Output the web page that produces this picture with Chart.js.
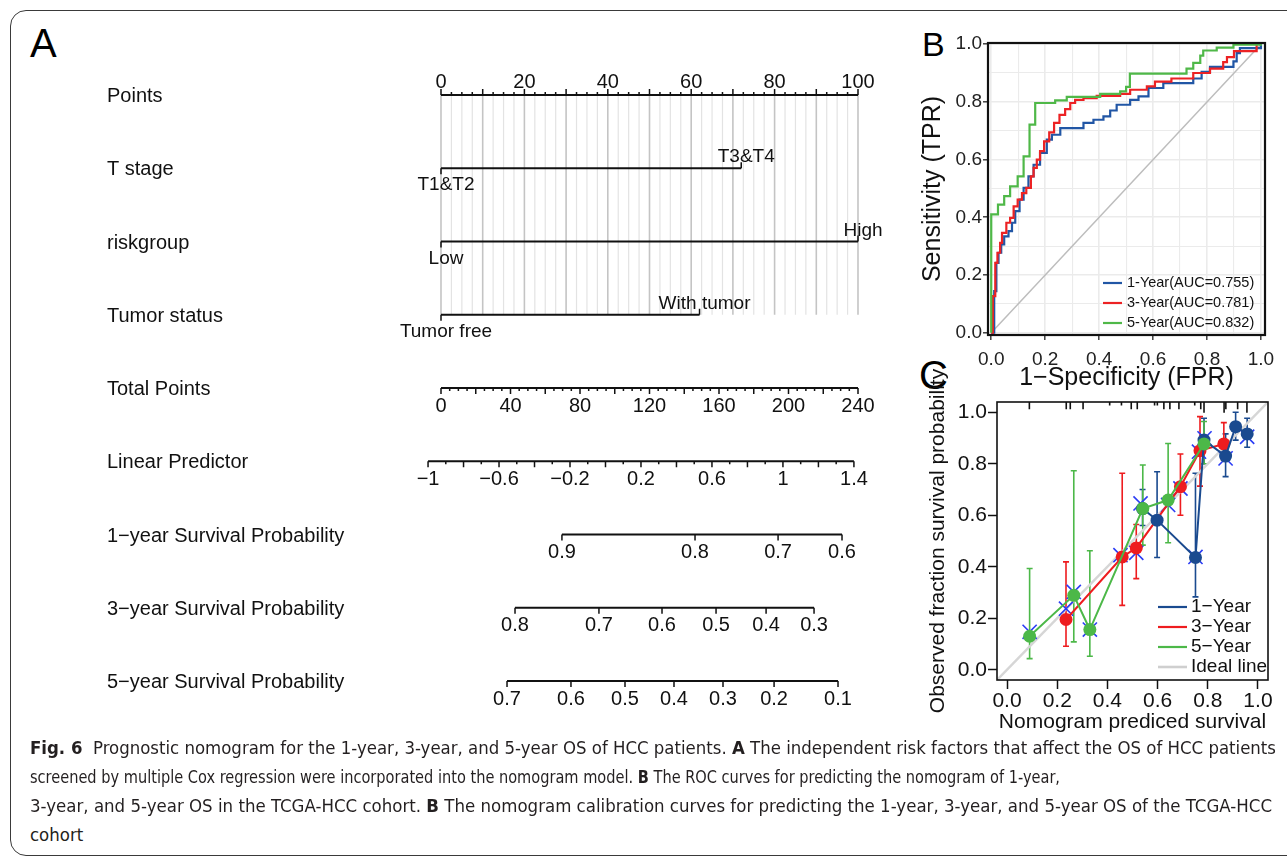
<!DOCTYPE html>
<html>
<head>
<meta charset="utf-8">
<title>Fig. 6</title>
<script src="https://cdn.jsdelivr.net/npm/chart.js@4.4.1/dist/chart.umd.min.js"></script>
<style>
  html, body { margin: 0; padding: 0; background: #fff; }
  body { width: 1287px; height: 858px; position: relative; overflow: hidden;
         font-family: 'Liberation Sans', Arial, sans-serif; }
  #frame { position: absolute; left: 10px; top: 10px; width: 1330px; height: 846px;
           border: 1.2px solid #3a3a3a; border-radius: 16px; box-sizing: border-box; }
  canvas { position: absolute; }
  .tag { position: absolute; line-height: 1; color: #000; }
  .cap { position: absolute; left: 30px; white-space: nowrap; color: #231f20;
         font-family: 'Liberation Sans Narrow', 'DejaVu Sans Condensed', sans-serif;
         font-size: 18px; line-height: 29px; transform-origin: 0 50%; }
</style>
</head>
<body>
<div id="frame"></div>
<div class="tag" style="left:30px;top:23px;font-size:40px">A</div>
<div class="tag" style="left:922px;top:27px;font-size:34px">B</div>
<div class="tag" style="left:919px;top:355px;font-size:40px">C</div>

<canvas id="nomo" width="890" height="700" style="left:20px;top:20px"></canvas>
<canvas id="roc" width="385" height="375" style="left:900px;top:20px"></canvas>
<canvas id="calib" width="385" height="390" style="left:900px;top:355px"></canvas>

<div class="cap" style="top:733px"><b>Fig. 6</b>&nbsp; Prognostic nomogram for the 1-year, 3-year, and 5-year OS of HCC patients. <b>A</b> The independent risk factors that affect the OS of HCC patients</div>
<div class="cap" style="top:762px">screened by multiple Cox regression were incorporated into the nomogram model. <b>B</b> The ROC curves for predicting the nomogram of 1-year,</div>
<div class="cap" style="top:791px">3-year, and 5-year OS in the TCGA-HCC cohort. <b>B</b> The nomogram calibration curves for predicting the 1-year, 3-year, and 5-year OS of the TCGA-HCC</div>
<div class="cap" style="top:820px">cohort</div>

<script>
Chart.defaults.font.family = "'Liberation Sans', Arial, sans-serif";
Chart.defaults.color = '#111';
Chart.defaults.animation = false;

// ------------------------------------------------------------
// Nomogram values
// ------------------------------------------------------------
const rowNames = ['Points', 'T stage', 'riskgroup', 'Tumor status', 'Total Points',
  'Linear Predictor', '1\u2212year Survival Probability', '3\u2212year Survival Probability',
  '5\u2212year Survival Probability'];

const pointsTicks = [0, 20, 40, 60, 80, 100];
const tStageLevels = ['T1&T2', 'T3&T4'];
const tStagePoints = [0, 72];
const riskLevels = ['Low', 'High'];
const riskPoints = [0, 100];
const tumorLevels = ['Tumor free', 'With tumor'];
const tumorPoints = [0, 62];

const totalTicks = [0, 40, 80, 120, 160, 200, 240];
const lpTicks = [-1, -0.6, -0.2, 0.2, 0.6, 1, 1.4];

// survival probability marks, placed on the total-points scale
const surv1Probs = [0.9, 0.8, 0.7, 0.6];
const surv1AtTotal = [69.6, 146.2, 194.0, 230.8];
const surv3Probs = [0.8, 0.7, 0.6, 0.5, 0.4, 0.3];
const surv3AtTotal = [42.6, 90.9, 127.2, 158.3, 187.1, 214.7];
const surv5Probs = [0.7, 0.6, 0.5, 0.4, 0.3, 0.2, 0.1];
const surv5AtTotal = [38.0, 74.8, 105.9, 134.1, 162.3, 191.7, 228.5];

// ------------------------------------------------------------
// ROC values
// ------------------------------------------------------------
const rocNames = ['1-Year(AUC=0.755)', '3-Year(AUC=0.781)', '5-Year(AUC=0.832)'];
const rocGrid = [0, 0.1, 0.2, 0.3, 0.4, 0.5, 0.6, 0.7, 0.8, 0.9, 1.0];

const roc1Fpr = [0, 0.011, 0.019, 0.027, 0.037, 0.048, 0.064, 0.077, 0.089, 0.105, 0.120, 0.138,
  0.157, 0.181, 0.206, 0.225, 0.256, 0.342, 0.379, 0.416, 0.441, 0.465, 0.515, 0.546, 0.583,
  0.638, 0.749, 0.780, 0.811, 0.898, 0.910, 0.922, 1.0];
const roc1Tpr = [0, 0.144, 0.242, 0.277, 0.306, 0.334, 0.352, 0.381, 0.421, 0.461, 0.502, 0.542,
  0.582, 0.623, 0.669, 0.686, 0.709, 0.727, 0.738, 0.750, 0.770, 0.790, 0.807, 0.819, 0.848,
  0.865, 0.881, 0.904, 0.921, 0.940, 0.969, 0.986, 1.0];

const roc3Fpr = [0, 0.006, 0.015, 0.023, 0.033, 0.040, 0.056, 0.070, 0.083, 0.098, 0.114, 0.130,
  0.147, 0.157, 0.169, 0.181, 0.196, 0.215, 0.233, 0.253, 0.274, 0.293, 0.311, 0.342, 0.391,
  0.478, 0.515, 0.577, 0.607, 0.668, 0.749, 0.811, 0.860, 0.874, 0.900, 0.984];
const roc3Tpr = [0, 0.127, 0.242, 0.277, 0.311, 0.346, 0.381, 0.398, 0.438, 0.461, 0.484, 0.502,
  0.542, 0.571, 0.600, 0.629, 0.663, 0.694, 0.727, 0.755, 0.775, 0.796, 0.807, 0.813, 0.821,
  0.828, 0.842, 0.854, 0.870, 0.881, 0.900, 0.915, 0.938, 0.955, 0.976, 1.0];

const roc5Fpr = [0, 0, 0.025, 0.048, 0.070, 0.098, 0.120, 0.142, 0.163, 0.237, 0.280, 0.404,
  0.478, 0.500, 0.514, 0.724, 0.749, 0.775, 0.786, 0.836, 0.898, 1.0];
const roc5Tpr = [0, 0.41, 0.444, 0.473, 0.507, 0.542, 0.611, 0.721, 0.796, 0.805, 0.817, 0.828,
  0.836, 0.852, 0.898, 0.915, 0.935, 0.960, 0.978, 0.988, 0.998, 1.0];

// ------------------------------------------------------------
// Calibration values
// ------------------------------------------------------------
const calNames = ['1\u2212Year', '3\u2212Year', '5\u2212Year', 'Ideal line'];
const calTicks = [0, 0.2, 0.4, 0.6, 0.8, 1.0];

const cal1Pred = [0.540, 0.598, 0.751, 0.785, 0.871, 0.911, 0.957];
const cal1Obs  = [0.626, 0.581, 0.436, 0.892, 0.830, 0.944, 0.916];
const cal1Lo   = [0.560, 0.436, 0.283, 0.800, 0.750, 0.892, 0.864];
const cal1Hi   = [0.700, 0.769, 0.763, 0.977, 0.916, 1.000, 0.977];

const cal3Pred = [0.235, 0.459, 0.515, 0.691, 0.769, 0.864];
const cal3Obs  = [0.195, 0.438, 0.473, 0.711, 0.851, 0.877];
const cal3Lo   = [0.091, 0.250, 0.354, 0.600, 0.713, 0.815];
const cal3Hi   = [0.419, 0.763, 0.564, 0.838, 0.983, 0.960];

const cal5Pred = [0.090, 0.266, 0.330, 0.541, 0.642, 0.785];
const cal5Obs  = [0.130, 0.289, 0.156, 0.626, 0.659, 0.877];
const cal5Lo   = [0.043, 0.108, 0.052, 0.484, 0.493, 0.800];
const cal5Hi   = [0.393, 0.773, 0.462, 0.795, 0.879, 0.964];

// bias-corrected estimates (x marks)
const corrPred = [0.090, 0.235, 0.266, 0.330, 0.452, 0.515, 0.532, 0.642, 0.691, 0.751, 0.765, 0.787, 0.871, 0.957];
const corrObs  = [0.147, 0.237, 0.302, 0.156, 0.445, 0.454, 0.646, 0.640, 0.704, 0.438, 0.847, 0.899, 0.821, 0.905];

// distribution of predictions along the top edge
const rugPred  = [0.089, 0.236, 0.252, 0.303, 0.409, 0.456, 0.495, 0.519, 0.588, 0.599,
  0.625, 0.649, 0.685, 0.748, 0.772, 0.785, 0.865, 0.872, 0.919, 0.956];
const rugCount = [2, 2, 2, 2, 1, 1, 2, 2, 1, 1, 2, 2, 2, 1, 2, 3, 3, 2, 2, 3];

const BLUE = '#2156a5', RED = '#ec2224', GREEN = '#4fb848';
const CAL_BLUE = '#1a4a8f', CAL_RED = '#ee1c1f', CAL_GREEN = '#4cb848', CROSS = '#2b3cf5';

const pair = (xs, ys) => xs.map((v, i) => ({ x: v, y: ys[i] }));
const seg = (x0, x1, row) => [{ x: x0, y: row }, { x: x1, y: row }];
const fmtSigned = v => (v < 0 ? '\u2212' + Math.abs(v) : String(v));

// ------------------------------------------------------------
// A: nomogram
// ------------------------------------------------------------
const nomogramDecor = {
  id: 'nomogramDecor',
  beforeDatasetsDraw(chart) {
    const { ctx, scales: { x, y } } = chart;
    const yTop = y.getPixelForValue(0), yBot = y.getPixelForValue(3);
    ctx.save();
    for (let i = 0; i <= 40; i++) {
      const px = x.getPixelForValue(i * 2.5);
      const major = i % 4 === 0;
      ctx.strokeStyle = major ? '#c4c4c4' : '#e3e3e3';
      ctx.lineWidth = major ? 1.6 : 1.2;
      ctx.beginPath(); ctx.moveTo(px, yTop); ctx.lineTo(px, yBot); ctx.stroke();
    }
    ctx.restore();
  },
  afterDatasetsDraw(chart) {
    const { ctx, scales: { x, xTot, xLp, y } } = chart;
    const row = r => y.getPixelForValue(r);
    const tick = (scale, v, r, len) => {
      const px = scale.getPixelForValue(v);
      ctx.moveTo(px, row(r)); ctx.lineTo(px, row(r) + len);
    };
    ctx.save();
    ctx.strokeStyle = '#111';
    ctx.lineWidth = 1.5;
    ctx.beginPath();
    for (let i = 0; i <= 40; i++) tick(x, i * 2.5, 0, i % 4 === 0 ? -6 : -3);
    for (let i = 0; i <= 48; i++) tick(xTot, i * 5, 4, i % 4 === 0 ? 6 : 3);
    for (let i = 0; i <= 24; i++) tick(xLp, lpTicks[0] + i * 0.1, 5, i % 2 === 0 ? 6 : 3);
    surv1AtTotal.forEach(v => tick(xTot, v, 6, 6));
    surv3AtTotal.forEach(v => tick(xTot, v, 7, 6));
    surv5AtTotal.forEach(v => tick(xTot, v, 8, 6));
    [[tStagePoints, 1], [riskPoints, 2], [tumorPoints, 3]].forEach(([pts, r]) => {
      tick(x, pts[0], r, 6);
      tick(x, pts[1], r, -6);
    });
    ctx.stroke();

    ctx.fillStyle = '#111';
    ctx.textBaseline = 'middle';

    // row names
    ctx.textAlign = 'left';
    ctx.font = "20px 'Liberation Sans', Arial, sans-serif";
    rowNames.forEach((name, r) => ctx.fillText(name, 87, row(r) + 1.5));

    // numeric scales
    ctx.textAlign = 'center';
    pointsTicks.forEach(v => ctx.fillText(String(v), x.getPixelForValue(v), row(0) - 13));
    totalTicks.forEach(v => ctx.fillText(String(v), xTot.getPixelForValue(v), row(4) + 18));
    lpTicks.forEach(v => ctx.fillText(fmtSigned(v), xLp.getPixelForValue(v), row(5) + 18));
    surv1Probs.forEach((p, i) => ctx.fillText(p.toFixed(1), xTot.getPixelForValue(surv1AtTotal[i]), row(6) + 18));
    surv3Probs.forEach((p, i) => ctx.fillText(p.toFixed(1), xTot.getPixelForValue(surv3AtTotal[i]), row(7) + 18));
    surv5Probs.forEach((p, i) => ctx.fillText(p.toFixed(1), xTot.getPixelForValue(surv5AtTotal[i]), row(8) + 18));

    // factor levels: first below the line, second above
    ctx.font = "19px 'Liberation Sans', Arial, sans-serif";
    [[tStageLevels, tStagePoints, 1], [riskLevels, riskPoints, 2], [tumorLevels, tumorPoints, 3]]
      .forEach(([levels, pts, r]) => {
        ctx.fillText(levels[0], x.getPixelForValue(pts[0]) + 5, row(r) + 17);
        ctx.fillText(levels[1], x.getPixelForValue(pts[1]) + 5, row(r) - 11);
      });
    ctx.restore();
  }
};

const axisLine = { borderColor: '#111', borderWidth: 1.8, pointRadius: 0, clip: false, fill: false };

new Chart(document.getElementById('nomo'), {
  type: 'line',
  data: {
    datasets: [
      { ...axisLine, xAxisID: 'x', data: seg(pointsTicks[0], pointsTicks[pointsTicks.length - 1], 0) },
      { ...axisLine, xAxisID: 'x', data: seg(tStagePoints[0], tStagePoints[1], 1) },
      { ...axisLine, xAxisID: 'x', data: seg(riskPoints[0], riskPoints[1], 2) },
      { ...axisLine, xAxisID: 'x', data: seg(tumorPoints[0], tumorPoints[1], 3) },
      { ...axisLine, xAxisID: 'xTot', data: seg(totalTicks[0], totalTicks[totalTicks.length - 1], 4) },
      { ...axisLine, xAxisID: 'xLp', data: seg(lpTicks[0], lpTicks[lpTicks.length - 1], 5) },
      { ...axisLine, xAxisID: 'xTot', data: seg(surv1AtTotal[0], surv1AtTotal[surv1AtTotal.length - 1], 6) },
      { ...axisLine, xAxisID: 'xTot', data: seg(surv3AtTotal[0], surv3AtTotal[surv3AtTotal.length - 1], 7) },
      { ...axisLine, xAxisID: 'xTot', data: seg(surv5AtTotal[0], surv5AtTotal[surv5AtTotal.length - 1], 8) }
    ]
  },
  options: {
    responsive: false,
    events: [],
    layout: { padding: { left: 421, right: 52, top: 75, bottom: 39 } },
    plugins: { legend: { display: false }, tooltip: { enabled: false } },
    scales: {
      x:    { type: 'linear', position: 'bottom', min: 0, max: 100, display: false },
      xTot: { type: 'linear', position: 'bottom', min: 0, max: 240, display: false },
      xLp:  { type: 'linear', position: 'bottom', min: -0.927, max: 1.423, display: false },
      y:    { type: 'linear', min: 0, max: 8, reverse: true, display: false }
    }
  },
  plugins: [nomogramDecor]
});

// ------------------------------------------------------------
// B: ROC curves
// ------------------------------------------------------------
const isMajor = v => Math.round(v * 10) % 2 === 0;

const panelBox = (id, width) => ({
  id,
  afterDatasetsDraw(chart) {
    const { ctx, chartArea: a } = chart;
    ctx.save();
    ctx.strokeStyle = '#111';
    ctx.lineWidth = width;
    ctx.strokeRect(a.left, a.top, a.right - a.left, a.bottom - a.top);
    ctx.restore();
  }
});

const rocLegend = {
  id: 'rocLegend',
  afterDraw(chart) {
    const { ctx, chartArea: a } = chart;
    const colors = [BLUE, RED, GREEN];
    ctx.save();
    ctx.font = "14.5px 'Liberation Sans', Arial, sans-serif";
    ctx.textBaseline = 'middle';
    ctx.textAlign = 'left';
    rocNames.forEach((name, i) => {
      const yy = a.bottom - 52 + i * 20;
      ctx.strokeStyle = colors[i];
      ctx.lineWidth = 2.2;
      ctx.beginPath(); ctx.moveTo(a.right - 162, yy); ctx.lineTo(a.right - 143, yy); ctx.stroke();
      ctx.fillStyle = '#111';
      ctx.fillText(name, a.right - 138, yy);
    });
    ctx.restore();
  }
};

const rocLine = { borderWidth: 2.2, pointRadius: 0, stepped: 'before', fill: false };

new Chart(document.getElementById('roc'), {
  type: 'line',
  data: {
    datasets: [
      { ...rocLine, label: rocNames[2], data: pair(roc5Fpr, roc5Tpr), borderColor: GREEN },
      { ...rocLine, label: rocNames[1], data: pair(roc3Fpr, roc3Tpr), borderColor: RED },
      { ...rocLine, label: rocNames[0], data: pair(roc1Fpr, roc1Tpr), borderColor: BLUE },
      { label: 'diagonal', data: [{ x: 0, y: 0 }, { x: 1, y: 1 }], borderColor: '#bdbdbd',
        borderWidth: 1.5, pointRadius: 0, fill: false }
    ]
  },
  options: {
    responsive: false,
    events: [],
    layout: { padding: { top: 23, right: 20, left: 0, bottom: 0 } },
    plugins: { legend: { display: false }, tooltip: { enabled: false } },
    scales: {
      x: {
        type: 'linear', min: -0.012, max: 1.015,
        afterBuildTicks: s => { s.ticks = rocGrid.map(v => ({ value: v })); },
        afterFit: s => { s.height = 60; },
        border: { display: false },
        grid: {
          color: '#ebebeb',
          lineWidth: c => (isMajor(c.tick.value) ? 1.6 : 1.1),
          tickLength: 5, tickWidth: 1.4,
          tickColor: c => (isMajor(c.tick.value) ? '#333' : 'rgba(0,0,0,0)')
        },
        ticks: { font: { size: 19 }, color: '#222', padding: 8, maxRotation: 0, autoSkip: false,
                 callback: v => (isMajor(v) ? v.toFixed(1) : '') },
        title: { display: true, text: '1\u2212Specificity (FPR)', font: { size: 25 }, color: '#111',
                 padding: { top: 0, bottom: 2 } }
      },
      y: {
        type: 'linear', min: -0.008, max: 1.004,
        afterBuildTicks: s => { s.ticks = rocGrid.map(v => ({ value: v })); },
        afterFit: s => { s.width = 88; },
        border: { display: false },
        grid: {
          color: '#ebebeb',
          lineWidth: c => (isMajor(c.tick.value) ? 1.6 : 1.1),
          tickLength: 5, tickWidth: 1.4,
          tickColor: c => (isMajor(c.tick.value) ? '#333' : 'rgba(0,0,0,0)')
        },
        ticks: { font: { size: 19 }, color: '#222', padding: 1, autoSkip: false,
                 callback: v => (isMajor(v) ? v.toFixed(1) : '') },
        title: { display: true, text: 'Sensitivity (TPR)', font: { size: 25 }, color: '#111',
                 padding: { top: 18, bottom: 0 } }
      }
    }
  },
  plugins: [panelBox('rocBox', 2.2), rocLegend]
});

// ------------------------------------------------------------
// C: calibration curves
// ------------------------------------------------------------
const calSeries = [
  { color: CAL_BLUE,  x: cal1Pred, lo: cal1Lo, hi: cal1Hi },
  { color: CAL_RED,   x: cal3Pred, lo: cal3Lo, hi: cal3Hi },
  { color: CAL_GREEN, x: cal5Pred, lo: cal5Lo, hi: cal5Hi }
];

const calibBars = {
  id: 'calibBars',
  beforeDatasetsDraw(chart) {
    const { ctx, scales: { x, y } } = chart;
    ctx.save();
    ctx.lineWidth = 1.6;
    calSeries.forEach(s => {
      ctx.strokeStyle = s.color;
      ctx.beginPath();
      s.x.forEach((v, i) => {
        const px = x.getPixelForValue(v);
        const lo = y.getPixelForValue(s.lo[i]), hi = y.getPixelForValue(s.hi[i]);
        ctx.moveTo(px, lo); ctx.lineTo(px, hi);
        ctx.moveTo(px - 3, lo); ctx.lineTo(px + 3, lo);
        ctx.moveTo(px - 3, hi); ctx.lineTo(px + 3, hi);
      });
      ctx.stroke();
    });
    ctx.restore();
  }
};

const calibRug = {
  id: 'calibRug',
  afterDatasetsDraw(chart) {
    const { ctx, chartArea: a, scales: { x } } = chart;
    ctx.save();
    ctx.strokeStyle = '#111';
    ctx.lineWidth = 1.6;
    ctx.beginPath();
    rugPred.forEach((v, i) => {
      const px = x.getPixelForValue(v);
      ctx.moveTo(px, a.top); ctx.lineTo(px, a.top + rugCount[i] * 3.6);
    });
    ctx.stroke();
    ctx.restore();
  }
};

const calibText = {
  id: 'calibText',
  afterDraw(chart) {
    const { ctx, chartArea: a } = chart;
    const colors = [CAL_BLUE, CAL_RED, CAL_GREEN, '#cfcfcf'];
    ctx.save();
    ctx.fillStyle = '#111';
    ctx.textBaseline = 'middle';
    ctx.font = "21px 'Liberation Sans', Arial, sans-serif";
    ctx.textAlign = 'center';
    ctx.fillText('Nomogram prediced survival', (a.left + a.right) / 2, 367);
    ctx.translate(38, (a.top + a.bottom) / 2);
    ctx.rotate(-Math.PI / 2);
    ctx.fillText('Observed fraction survival probability', 0, 0);
    ctx.setTransform(1, 0, 0, 1, 0, 0);

    ctx.font = "19px 'Liberation Sans', Arial, sans-serif";
    ctx.textAlign = 'left';
    calNames.forEach((name, i) => {
      const yy = a.bottom - 73 + i * 20;
      ctx.strokeStyle = colors[i];
      ctx.lineWidth = i === 3 ? 2.6 : 2.2;
      ctx.beginPath(); ctx.moveTo(a.right - 110, yy); ctx.lineTo(a.right - 81, yy); ctx.stroke();
      ctx.fillText(name, a.right - 77, yy);
    });
    ctx.restore();
  }
};

const calLine = { borderWidth: 2, pointRadius: 6.5, pointBorderWidth: 0, fill: false };

new Chart(document.getElementById('calib'), {
  type: 'line',
  data: {
    datasets: [
      { ...calLine, label: calNames[2], data: pair(cal5Pred, cal5Obs), borderColor: CAL_GREEN, pointBackgroundColor: CAL_GREEN },
      { ...calLine, label: calNames[0], data: pair(cal1Pred, cal1Obs), borderColor: CAL_BLUE, pointBackgroundColor: CAL_BLUE },
      { ...calLine, label: calNames[1], data: pair(cal3Pred, cal3Obs), borderColor: CAL_RED, pointBackgroundColor: CAL_RED },
      { label: 'corrected', data: pair(corrPred, corrObs), showLine: false, pointStyle: 'crossRot',
        pointRadius: 10, pointBorderColor: CROSS, pointBorderWidth: 1.6 },
      { label: calNames[3], data: [{ x: -0.04, y: -0.04 }, { x: 1.04, y: 1.04 }], borderColor: '#d6d6d6',
        borderWidth: 2.4, pointRadius: 0, fill: false }
    ]
  },
  options: {
    responsive: false,
    events: [],
    layout: { padding: { top: 47, right: 17, left: 0, bottom: 0 } },
    plugins: { legend: { display: false }, tooltip: { enabled: false } },
    scales: {
      x: {
        type: 'linear', min: -0.04, max: 1.04,
        afterBuildTicks: s => { s.ticks = calTicks.map(v => ({ value: v })); },
        afterFit: s => { s.height = 65; },
        border: { display: false },
        grid: { drawOnChartArea: false, tickLength: 9, tickWidth: 1.5, tickColor: '#111' },
        ticks: { font: { size: 21 }, color: '#111', padding: 0, maxRotation: 0, autoSkip: false,
                 callback: v => v.toFixed(1) }
      },
      y: {
        type: 'linear', min: -0.04, max: 1.04,
        afterBuildTicks: s => { s.ticks = calTicks.map(v => ({ value: v })); },
        afterFit: s => { s.width = 97; },
        border: { display: false },
        grid: { drawOnChartArea: false, tickLength: 9, tickWidth: 1.5, tickColor: '#111' },
        ticks: { font: { size: 21 }, color: '#111', padding: 1, autoSkip: false,
                 callback: v => v.toFixed(1) }
      }
    }
  },
  plugins: [calibBars, panelBox('calibBox', 1.6), calibRug, calibText]
});

// ------------------------------------------------------------
// Caption: squeeze each line to the width it takes in print
// ------------------------------------------------------------
window.addEventListener('load', () => {
  const lines = document.querySelectorAll('.cap');
  const targets = [1246, 1030, 1242];
  let k0 = 1;
  lines.forEach((el, i) => {
    const w = el.getBoundingClientRect().width;
    const k = i < targets.length ? targets[i] / w : k0;
    if (i === 0) k0 = k;
    el.style.transform = 'scaleX(' + k + ')';
  });
});
</script>
</body>
</html>
